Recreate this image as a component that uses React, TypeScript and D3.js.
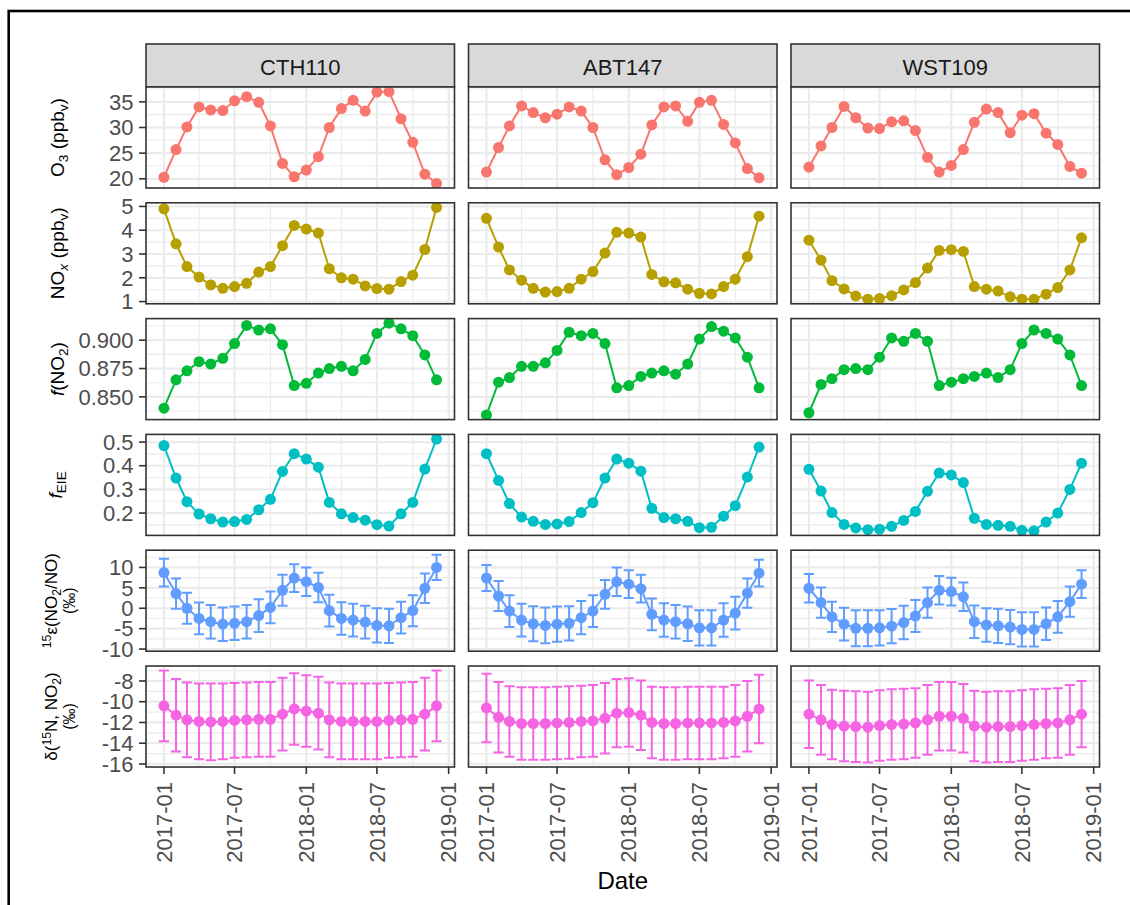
import * as d3 from "d3"

// sites (facet columns)
const sites = ["CTH110", "ABT147", "WST109"]

// monthly observations
const months = [
  "2017-01", "2017-02", "2017-03", "2017-04", "2017-05", "2017-06",
  "2017-07", "2017-08", "2017-09", "2017-10", "2017-11", "2017-12",
  "2018-01", "2018-02", "2018-03", "2018-04", "2018-05", "2018-06",
  "2018-07", "2018-08", "2018-09", "2018-10", "2018-11", "2018-12"
]

// x axis breaks
const xMajorBreaks = ["2017-01", "2017-07", "2018-01", "2018-07", "2019-01"]
const xMinorBreaks = ["2017-04", "2017-10", "2018-04", "2018-10"]

// O3 (ppbv)
const o3CTH = [20.3, 25.7, 30.1, 34.0, 33.4, 33.3, 35.2, 36.0, 34.9, 30.3, 23.0, 20.4, 21.7, 24.3, 30.0, 33.7, 35.3, 33.2, 36.9, 37.0, 31.7, 27.1, 20.9, 19.1]
const o3ABT = [21.3, 26.1, 30.3, 34.2, 32.9, 31.9, 32.6, 34.0, 33.2, 30.0, 23.7, 20.8, 22.2, 24.8, 30.5, 34.0, 34.2, 31.2, 34.9, 35.3, 30.6, 27.0, 22.0, 20.2]
const o3WST = [22.3, 26.4, 30.0, 34.1, 31.9, 29.9, 29.8, 31.1, 31.3, 29.4, 24.2, 21.3, 22.6, 25.7, 31.0, 33.6, 32.9, 29.0, 32.4, 32.7, 28.9, 26.7, 22.4, 21.1]
const o3Ticks = [20, 25, 30, 35]

// NOx (ppbv)
const noxCTH = [4.90, 3.43, 2.47, 2.03, 1.70, 1.56, 1.63, 1.77, 2.24, 2.47, 3.35, 4.20, 4.05, 3.88, 2.38, 2.00, 1.94, 1.66, 1.55, 1.52, 1.84, 2.11, 3.19, 4.96]
const noxABT = [4.50, 3.29, 2.33, 1.90, 1.56, 1.40, 1.42, 1.56, 1.94, 2.26, 3.04, 3.91, 3.88, 3.71, 2.14, 1.83, 1.79, 1.52, 1.35, 1.32, 1.63, 1.94, 2.89, 4.59]
const noxWST = [3.58, 2.74, 1.88, 1.53, 1.24, 1.10, 1.13, 1.25, 1.49, 1.80, 2.41, 3.15, 3.18, 3.11, 1.63, 1.52, 1.44, 1.20, 1.10, 1.10, 1.31, 1.59, 2.33, 3.68]
const noxTicks = [1, 2, 3, 4, 5]

// f(NO2)
const fno2CTH = [0.840, 0.865, 0.873, 0.881, 0.879, 0.884, 0.897, 0.913, 0.909, 0.910, 0.896, 0.860, 0.862, 0.871, 0.875, 0.877, 0.873, 0.883, 0.906, 0.915, 0.910, 0.904, 0.887, 0.865]
const fno2ABT = [0.834, 0.863, 0.867, 0.877, 0.877, 0.880, 0.891, 0.907, 0.904, 0.906, 0.897, 0.858, 0.860, 0.868, 0.871, 0.873, 0.870, 0.879, 0.901, 0.912, 0.908, 0.902, 0.885, 0.858]
const fno2WST = [0.836, 0.861, 0.866, 0.874, 0.875, 0.874, 0.885, 0.902, 0.899, 0.906, 0.899, 0.860, 0.863, 0.866, 0.868, 0.871, 0.867, 0.874, 0.897, 0.909, 0.906, 0.901, 0.887, 0.860]
const fno2Ticks = [0.85, 0.875, 0.9]

// f_EIE
const feieCTH = [0.485, 0.348, 0.248, 0.196, 0.176, 0.162, 0.164, 0.173, 0.214, 0.258, 0.376, 0.451, 0.428, 0.394, 0.245, 0.197, 0.181, 0.170, 0.151, 0.145, 0.197, 0.245, 0.386, 0.513]
const feieABT = [0.451, 0.338, 0.240, 0.183, 0.165, 0.152, 0.154, 0.164, 0.202, 0.244, 0.348, 0.428, 0.411, 0.377, 0.220, 0.181, 0.176, 0.165, 0.138, 0.140, 0.187, 0.231, 0.352, 0.479]
const feieWST = [0.385, 0.293, 0.202, 0.152, 0.137, 0.130, 0.132, 0.144, 0.169, 0.207, 0.292, 0.369, 0.361, 0.329, 0.178, 0.152, 0.148, 0.144, 0.127, 0.125, 0.162, 0.200, 0.300, 0.411]
const feieTicks = [0.2, 0.3, 0.4, 0.5]

// 15eps(NO2/NO) (permil) and its uncertainty
const epsCTH = [8.75, 3.6, 0.0, -2.5, -3.3, -3.9, -3.7, -3.3, -1.8, 0.2, 4.4, 7.4, 6.5, 5.1, -0.6, -2.5, -2.9, -3.4, -4.2, -4.3, -2.3, -0.6, 4.9, 10.0]
const epsErrCTH = [3.4, 3.7, 3.8, 3.9, 4.1, 4.1, 4.1, 4.1, 4.0, 3.9, 3.8, 3.4, 3.5, 3.6, 3.9, 4.0, 4.0, 4.0, 4.2, 4.2, 3.9, 3.8, 3.6, 3.1]
const epsABT = [7.4, 3.0, -0.7, -2.9, -3.8, -4.2, -3.9, -3.7, -2.3, -0.7, 3.4, 6.5, 5.9, 4.8, -1.5, -2.9, -3.3, -3.8, -4.8, -4.8, -2.9, -1.2, 3.7, 8.6]
const epsErrABT = [3.2, 3.7, 3.9, 4.0, 4.3, 4.4, 4.3, 4.2, 4.1, 3.9, 3.5, 3.5, 3.4, 3.4, 3.9, 4.1, 4.1, 4.2, 4.3, 4.3, 4.1, 4.0, 3.6, 3.3]
const epsWST = [4.9, 1.4, -2.1, -3.9, -4.9, -4.9, -4.8, -4.4, -3.5, -1.9, 1.4, 4.4, 4.1, 2.8, -3.3, -4.1, -4.3, -4.6, -5.2, -5.2, -3.8, -2.1, 1.6, 5.9]
const epsErrWST = [3.5, 3.7, 3.7, 4.0, 4.4, 4.4, 4.3, 4.2, 4.1, 3.9, 3.7, 3.5, 3.4, 3.5, 4.0, 4.1, 4.2, 4.2, 4.2, 4.2, 4.0, 3.9, 3.7, 3.4]
const epsTicks = [-10, -5, 0, 5, 10]

// delta(15N, NO2) (permil) and its uncertainty
const d15CTH = [-10.4, -11.3, -11.75, -11.9, -11.95, -11.9, -11.8, -11.75, -11.7, -11.7, -11.2, -10.7, -10.9, -11.1, -11.75, -11.9, -11.9, -11.9, -11.9, -11.8, -11.75, -11.7, -11.2, -10.4]
const d15ErrCTH = [3.4, 3.5, 3.6, 3.65, 3.7, 3.65, 3.6, 3.6, 3.6, 3.6, 3.5, 3.45, 3.45, 3.5, 3.6, 3.65, 3.65, 3.65, 3.65, 3.6, 3.6, 3.6, 3.5, 3.4]
const d15ABT = [-10.6, -11.5, -11.9, -12.1, -12.1, -12.1, -12.05, -12.0, -11.9, -11.85, -11.6, -11.1, -11.05, -11.3, -12.0, -12.1, -12.1, -12.05, -12.05, -12.05, -12.0, -11.85, -11.4, -10.7]
const d15ErrABT = [3.3, 3.4, 3.4, 3.5, 3.5, 3.5, 3.5, 3.5, 3.45, 3.45, 3.4, 3.3, 3.3, 3.35, 3.45, 3.5, 3.5, 3.5, 3.5, 3.5, 3.45, 3.45, 3.4, 3.3]
const d15WST = [-11.2, -11.75, -12.2, -12.35, -12.4, -12.45, -12.3, -12.2, -12.15, -12.05, -11.75, -11.4, -11.4, -11.6, -12.35, -12.45, -12.4, -12.4, -12.3, -12.2, -12.1, -12.05, -11.75, -11.2]
const d15ErrWST = [3.25, 3.35, 3.35, 3.4, 3.4, 3.4, 3.4, 3.4, 3.4, 3.35, 3.35, 3.3, 3.3, 3.3, 3.4, 3.4, 3.4, 3.4, 3.4, 3.4, 3.35, 3.35, 3.35, 3.2]
const d15Ticks = [-16, -14, -12, -10, -8]

// ggplot2 hue palette
const colors = ["#F8766D", "#B79F00", "#00BA38", "#00BFC4", "#619CFF", "#F564E3"]

type Row = {
  values: number[][]
  errors: number[][] | null
  ticks: number[]
  fmt: (v: number) => string
}

const rows: Row[] = [
  { values: [o3CTH, o3ABT, o3WST], errors: null, ticks: o3Ticks, fmt: d3.format("d") },
  { values: [noxCTH, noxABT, noxWST], errors: null, ticks: noxTicks, fmt: d3.format("d") },
  { values: [fno2CTH, fno2ABT, fno2WST], errors: null, ticks: fno2Ticks, fmt: d3.format(".3f") },
  { values: [feieCTH, feieABT, feieWST], errors: null, ticks: feieTicks, fmt: d3.format(".1f") },
  { values: [epsCTH, epsABT, epsWST], errors: [epsErrCTH, epsErrABT, epsErrWST], ticks: epsTicks, fmt: v => String(v) },
  { values: [d15CTH, d15ABT, d15WST], errors: [d15ErrCTH, d15ErrABT, d15ErrWST], ticks: d15Ticks, fmt: v => String(v) }
]

// layout
const W = 1130
const H = 905
const left0 = 146
const panelW = 308.5
const colGap = 14
const stripTop = 44
const stripH = 43
const rowTop0 = 87
const rowH = 101
const rowGap = 14.8
const padDays = 46
const errHalfDays = 13

const FONT = "'Liberation Sans', Arial, Helvetica, sans-serif"
const DAY = 86400000

const parseMonth = d3.utcParse("%Y-%m")
const dates = months.map(m => parseMonth(m) as Date)
const majorDates = xMajorBreaks.map(m => parseMonth(m) as Date)
const minorDates = xMinorBreaks.map(m => parseMonth(m) as Date)
const fmtMonth = d3.utcFormat("%Y-%m")

const colLeft = (i: number) => left0 + i * (panelW + colGap)
const rowTop = (j: number) => rowTop0 + j * (rowH + rowGap)

const xDomain = [
  new Date(dates[0].getTime() - padDays * DAY),
  new Date(dates[dates.length - 1].getTime() + padDays * DAY)
]

// ggplot-like continuous expansion (5%), error bars included
function yDomain(row: Row): [number, number] {
  const all: number[] = []
  row.values.forEach((vals, s) =>
    vals.forEach((v, i) => {
      const e = row.errors ? row.errors[s][i] : 0
      all.push(v - e, v + e)
    })
  )
  const [lo, hi] = d3.extent(all) as [number, number]
  const pad = (hi - lo) * 0.05
  return [lo - pad, hi + pad]
}

function minorBreaks(ticks: number[], dom: [number, number]) {
  const step = ticks[1] - ticks[0]
  const ext = [ticks[0] - step, ...ticks, ticks[ticks.length - 1] + step]
  const out: number[] = []
  for (let i = 0; i < ext.length - 1; i++) out.push((ext[i] + ext[i + 1]) / 2)
  return out.filter(v => v >= dom[0] && v <= dom[1])
}

function YTitle({ j }: { j: number }) {
  const cy = rowTop(j) + rowH / 2
  const one = (x: number, size: number, content: any) => (
    <text textAnchor="middle" fill="#000" fontSize={size} transform={`translate(${x},${cy}) rotate(-90)`}>
      {content}
    </text>
  )
  if (j === 0) return one(64, 19, <>O<tspan dy={4} fontSize="72%">3</tspan><tspan dy={-4}> (ppb</tspan><tspan dy={4} fontSize="72%">v</tspan><tspan dy={-4}>)</tspan></>)
  if (j === 1) return one(64, 19, <>NO<tspan dy={4} fontSize="72%" fontStyle="italic">x</tspan><tspan dy={-4}> (ppb</tspan><tspan dy={4} fontSize="72%">v</tspan><tspan dy={-4}>)</tspan></>)
  if (j === 2) return one(64, 19, <><tspan fontStyle="italic">f</tspan>(NO<tspan dy={4} fontSize="72%">2</tspan><tspan dy={-4}>)</tspan></>)
  if (j === 3) return one(62, 19, <><tspan fontStyle="italic">f</tspan><tspan dy={4} fontSize="72%">EIE</tspan></>)
  if (j === 4)
    return (
      <g>
        {one(57, 17, <><tspan dy={-6} fontSize="72%">15</tspan><tspan dy={6}>ε(NO</tspan><tspan dy={4} fontSize="72%">2</tspan><tspan dy={-4}>/NO)</tspan></>)}
        {one(75, 16, "(‰)")}
      </g>
    )
  return (
    <g>
      {one(57, 17, <>δ(<tspan dy={-6} fontSize="72%">15</tspan><tspan dy={6}>N, NO</tspan><tspan dy={4} fontSize="72%">2</tspan><tspan dy={-4}>)</tspan></>)}
      {one(75, 16, "(‰)")}
    </g>
  )
}

const App = () => {
  const nRows = rows.length
  const bottom = rowTop(nRows - 1) + rowH

  return (
    <svg
      width={W}
      height={H}
      viewBox={`0 0 ${W} ${H}`}
      style={{ position: "absolute", left: 0, top: 0, background: "#fff" }}
      fontFamily={FONT}
    >
      <rect x={0} y={0} width={W} height={H} fill="#fff" />
      <defs>
        {sites.map((_s, i) =>
          rows.map((_r, j) => (
            <clipPath id={`clip-${i}-${j}`} key={`c${i}${j}`}>
              <rect x={colLeft(i)} y={rowTop(j)} width={panelW} height={rowH} />
            </clipPath>
          ))
        )}
      </defs>

      {/* outer frame */}
      <rect x={8.7} y={11} width={W + 50} height={H + 50} fill="none" stroke="#000" strokeWidth={2.6} />

      {/* strips */}
      {sites.map((s, i) => (
        <g key={s}>
          <rect x={colLeft(i)} y={stripTop} width={panelW} height={stripH} fill="#D9D9D9" stroke="#333" strokeWidth={1.6} />
          <text x={colLeft(i) + panelW / 2} y={75} textAnchor="middle" fontSize={22} fill="#1A1A1A">{s}</text>
        </g>
      ))}

      {rows.map((row, j) => {
        const dom = yDomain(row)
        const top = rowTop(j)
        const y = d3.scaleLinear().domain(dom).range([top + rowH, top])
        const minors = minorBreaks(row.ticks, dom)
        const color = colors[j]
        return (
          <g key={j}>
            {sites.map((s, i) => {
              const x = d3.scaleUtc().domain(xDomain).range([colLeft(i), colLeft(i) + panelW])
              const vals = row.values[i]
              const line = d3.line<number>().x((_v, k) => x(dates[k])).y(v => y(v))
              const errs = row.errors ? row.errors[i] : null
              const hw = x(new Date(dates[0].getTime() + errHalfDays * DAY)) - x(dates[0])
              return (
                <g key={s}>
                  <rect x={colLeft(i)} y={top} width={panelW} height={rowH} fill="#fff" />
                  {/* grid */}
                  {minors.map(v => (
                    <line key={`ym${v}`} x1={colLeft(i)} x2={colLeft(i) + panelW} y1={y(v)} y2={y(v)} stroke="#EBEBEB" strokeWidth={1.1} />
                  ))}
                  {minorDates.map(d => (
                    <line key={`xm${d.getTime()}`} x1={x(d)} x2={x(d)} y1={top} y2={top + rowH} stroke="#EBEBEB" strokeWidth={1.1} />
                  ))}
                  {row.ticks.map(v => (
                    <line key={`yM${v}`} x1={colLeft(i)} x2={colLeft(i) + panelW} y1={y(v)} y2={y(v)} stroke="#EBEBEB" strokeWidth={2.2} />
                  ))}
                  {majorDates.map(d => (
                    <line key={`xM${d.getTime()}`} x1={x(d)} x2={x(d)} y1={top} y2={top + rowH} stroke="#EBEBEB" strokeWidth={2.2} />
                  ))}
                  {/* data */}
                  <g clipPath={`url(#clip-${i}-${j})`}>
                    <path d={line(vals) || ""} fill="none" stroke={color} strokeWidth={2} />
                    {vals.map((v, k) => (
                      <circle key={k} cx={x(dates[k])} cy={y(v)} r={5.5} fill={color} />
                    ))}
                    {errs &&
                      vals.map((v, k) => {
                        const cx = x(dates[k])
                        const yl = y(v - errs[k])
                        const yh = y(v + errs[k])
                        return (
                          <g key={`e${k}`} stroke={color} strokeWidth={2} fill="none">
                            <line x1={cx} x2={cx} y1={yl} y2={yh} />
                            <line x1={cx - hw} x2={cx + hw} y1={yl} y2={yl} />
                            <line x1={cx - hw} x2={cx + hw} y1={yh} y2={yh} />
                          </g>
                        )
                      })}
                  </g>
                  <rect x={colLeft(i)} y={top} width={panelW} height={rowH} fill="none" stroke="#333" strokeWidth={1.6} />
                </g>
              )
            })}
            {/* y axis on first column */}
            {row.ticks.map(v => (
              <g key={`t${v}`}>
                <line x1={colLeft(0) - 7} x2={colLeft(0)} y1={y(v)} y2={y(v)} stroke="#333" strokeWidth={1.6} />
                <text x={colLeft(0) - 12.5} y={y(v)} dy="0.35em" textAnchor="end" fontSize={22} fill="#4D4D4D">
                  {row.fmt(v)}
                </text>
              </g>
            ))}
            <YTitle j={j} />
          </g>
        )
      })}

      {/* x axes on bottom row */}
      {sites.map((s, i) => {
        const x = d3.scaleUtc().domain(xDomain).range([colLeft(i), colLeft(i) + panelW])
        return (
          <g key={`xa${s}`}>
            {majorDates.map(d => (
              <g key={d.getTime()}>
                <line x1={x(d)} x2={x(d)} y1={bottom} y2={bottom + 7} stroke="#333" strokeWidth={1.6} />
                <text
                  transform={`translate(${x(d)},${bottom + 15}) rotate(-90)`}
                  dy="0.35em"
                  textAnchor="end"
                  fontSize={22}
                  fill="#4D4D4D"
                >
                  {fmtMonth(d)}
                </text>
              </g>
            ))}
          </g>
        )
      })}

      <text x={colLeft(1) + panelW / 2} y={889} textAnchor="middle" fontSize={24} fill="#000">Date</text>
    </svg>
  )
}

export default App
